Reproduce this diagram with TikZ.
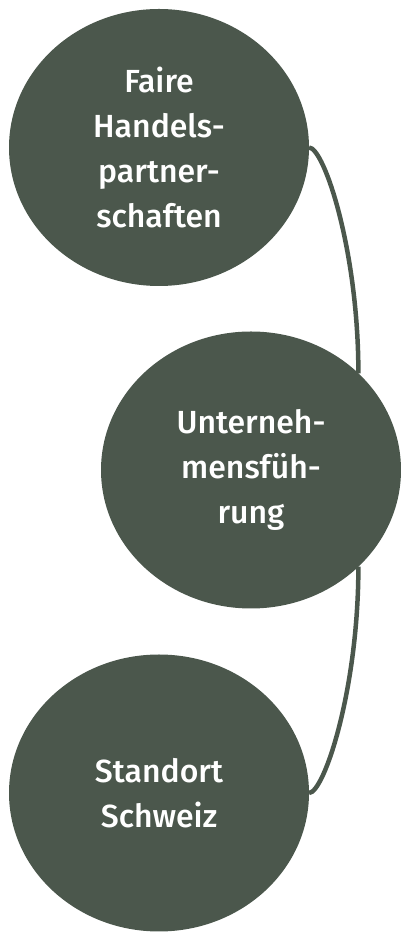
\documentclass[tikz,border=0pt]{standalone}
\usepackage{fontspec}
\setmainfont{Fira Sans}[UprightFont={* Medium}]
\usetikzlibrary{shapes.geometric}
\definecolor{sage}{RGB}{75,87,76}

\begin{document}
\begin{tikzpicture}[x=1pt, y=1pt,
                bubble/.style={ellipse, fill=sage, text=white, align=center,
                    font=\fontsize{32}{45}\selectfont, inner sep=0pt, outer sep=0pt,
                    minimum width=300pt, minimum height=277pt},
                link/.style={draw=sage, line width=4.5pt}]
                \useasboundingbox (0,0) rectangle (401,932);
                \node[bubble] (handel) at (159,784.5) {Faire\\Handels-\\partner-\\schaften};
                \node[bubble] (fuehrung) at (251,462) {Unterneh-\\mensfüh-\\rung};
                \node[bubble] (standort) at (159,139) {Standort\\Schweiz};
                \draw[link] (handel.east) .. controls +(15,0) and +(0,123) .. (fuehrung.42);
                \draw[link] (fuehrung.-42) .. controls +(0,-123) and +(15,0) .. (standort.east);
            \end{tikzpicture}
\end{document}
